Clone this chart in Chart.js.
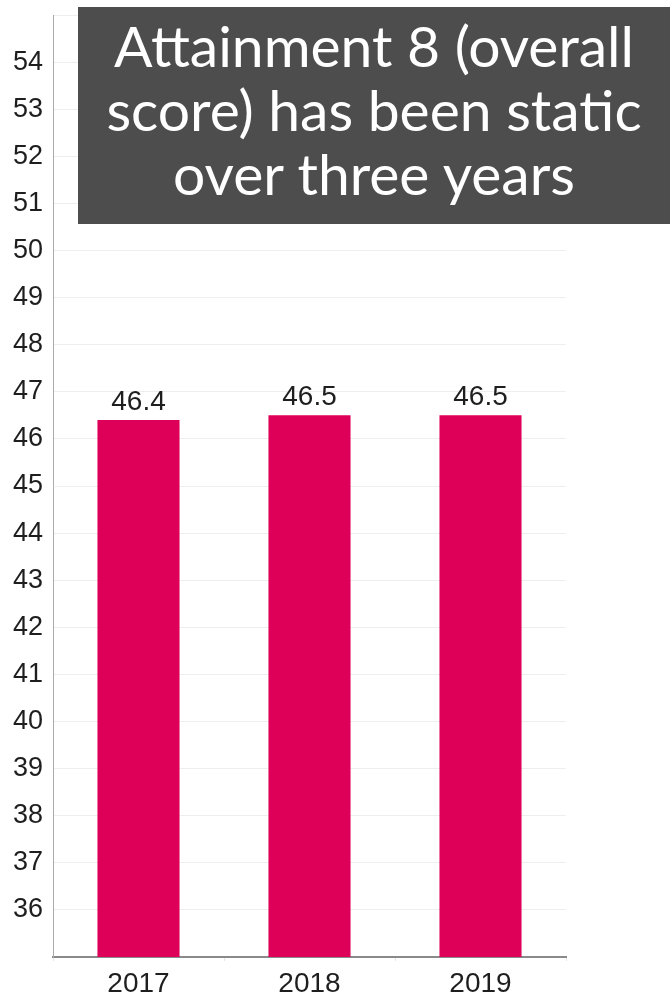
<!DOCTYPE html>
<html>
<head>
<meta charset="utf-8">
<script src="https://cdn.jsdelivr.net/npm/chart.js@4.4.0/dist/chart.umd.min.js"></script>
<style>
  html, body { margin: 0; padding: 0; background: #ffffff; }
  #wrap { position: relative; width: 670px; height: 997px; }
  #chart { position: absolute; left: 0; top: 0; }
  #headline {
    position: absolute; left: 78px; top: 7px; width: 592px; height: 217px;
    background: #4d4d4d; color: #ffffff; box-sizing: border-box;
    padding-top: 6px; text-align: center; white-space: nowrap;
    font-family: Lato, "Noto Sans", sans-serif; font-size: 57px; line-height: 64px;
  }
</style>
</head>
<body>
<div id="wrap">
  <canvas id="chart" width="670" height="997"></canvas>
  <div id="headline">Attainment 8 (overall<br>score) has been static<br>over three years</div>
</div>
<script>
// Attainment 8 average score by year
const years = ['2017', '2018', '2019'];
const scores = [46.4, 46.5, 46.5];
const valueLabels = ['46.4', '46.5', '46.5'];
const yMin = 35;
const yMax = 55;

const barColor = '#de0058';
const textColor = '#1e1e1e';
const labelFont = '"Liberation Sans", Arial, sans-serif';

// Writes each bar's value just above it
const valueLabelPlugin = {
  id: 'valueLabels',
  afterDatasetsDraw(chart) {
    const ctx = chart.ctx;
    const meta = chart.getDatasetMeta(0);
    ctx.save();
    ctx.font = '28px ' + labelFont;
    ctx.fillStyle = textColor;
    ctx.textAlign = 'center';
    ctx.textBaseline = 'middle';
    meta.data.forEach((bar, i) => {
      ctx.fillText(valueLabels[i], bar.x, bar.y - 18);
    });
    ctx.restore();
  }
};

new Chart(document.getElementById('chart'), {
  type: 'bar',
  data: {
    labels: years,
    datasets: [{
      data: scores,
      backgroundColor: barColor,
      borderWidth: 0,
      barPercentage: 0.48,
      categoryPercentage: 1.0
    }]
  },
  options: {
    responsive: false,
    animation: false,
    layout: { padding: { top: 15, right: 104, bottom: 0, left: 0 } },
    plugins: {
      legend: { display: false },
      tooltip: { enabled: false }
    },
    scales: {
      x: {
        grid: { drawOnChartArea: false, drawTicks: true, tickLength: 4, color: '#e6e6e6', offset: true },
        border: { color: '#8a8a8a', width: 2 },
        ticks: {
          color: textColor,
          padding: 6,
          font: { family: labelFont, size: 28 }
        },
        afterFit(scale) {
          scale.height = 40;
          scale.paddingLeft = 0;
          scale.paddingRight = 0;
        }
      },
      y: {
        min: yMin,
        max: yMax,
        grid: { color: '#eeeeee', drawTicks: false },
        border: { color: '#aaaaaa', width: 1 },
        ticks: {
          stepSize: 1,
          color: textColor,
          padding: 10,
          font: { family: labelFont, size: 27 },
          callback(value) {
            return (value === yMin || value === yMax) ? '' : String(value);
          }
        },
        afterFit(scale) {
          scale.width = 53;
          scale.paddingTop = 0;
          scale.paddingBottom = 0;
        }
      }
    }
  },
  plugins: [valueLabelPlugin]
});
</script>
</body>
</html>
